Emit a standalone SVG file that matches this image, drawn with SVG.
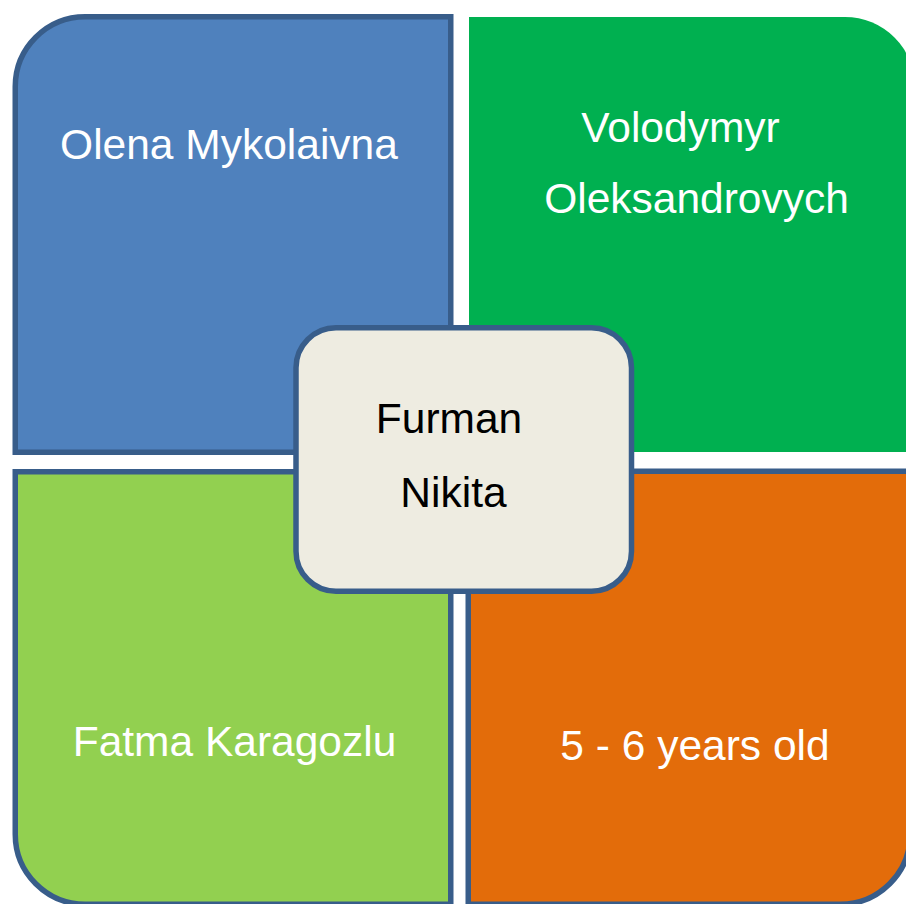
<svg xmlns="http://www.w3.org/2000/svg" width="906" height="904" viewBox="0 0 906 904">
  <style>
    .q { stroke: #385D8A; stroke-width: 5.5; stroke-linejoin: miter; }
    .lbl { font-family: "Liberation Sans", Arial, sans-serif; font-size: 42.5px; fill: #FFFFFF; text-anchor: middle; }
    .ctr { font-family: "Liberation Sans", Arial, sans-serif; font-size: 42.5px; fill: #000000; text-anchor: middle; }
  </style>
  <rect width="906" height="904" fill="#FFFFFF"/>
  <g id="connectors"/>
  <g id="node-olena">
    <path class="q" d="M15.25,452.25 V86.75 A70,70 0 0 1 85.25,16.75 H450.75 V452.25 Z" fill="#4F81BD"/>
    <text class="lbl" x="229" y="159">Olena Mykolaivna</text>
  </g>
  <g id="node-volodymyr">
    <path d="M469,17 H845 A70,70 0 0 1 915,87 V452 H469 Z" fill="#00B050"/>
    <text class="lbl" x="680.5" y="142">Volodymyr</text>
    <text class="lbl" x="696.5" y="213">Oleksandrovych</text>
  </g>
  <g id="node-fatma">
    <path class="q" d="M15.25,471.75 H450.75 V904.25 H85.25 A70,70 0 0 1 15.25,834.25 Z" fill="#92D050"/>
    <text class="lbl" x="234.5" y="756">Fatma Karagozlu</text>
  </g>
  <g id="node-age">
    <path class="q" d="M468.25,471.25 H910.25 V834.25 A70,70 0 0 1 840.25,904.25 H468.25 Z" fill="#E36C0A"/>
    <text class="lbl" x="695" y="760">5 - 6 years old</text>
  </g>
  <g id="node-furman">
    <rect class="q" x="296" y="327.75" width="335.5" height="263.5" rx="40" ry="40" fill="#EEECE1"/>
    <text class="ctr" x="449" y="433">Furman</text>
    <text class="ctr" x="453.5" y="507">Nikita</text>
  </g>
</svg>
